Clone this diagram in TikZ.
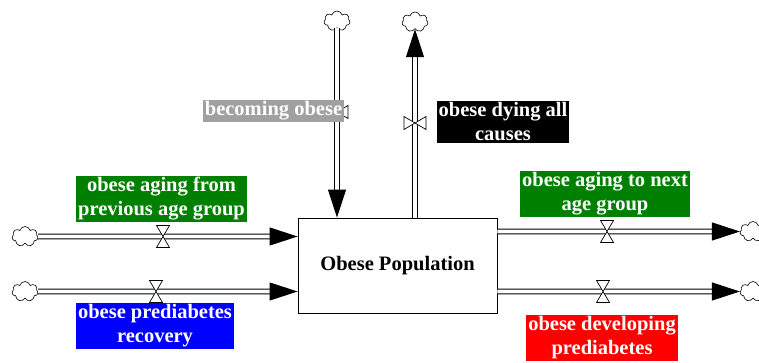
\documentclass[tikz,border=0pt]{standalone}
\usepackage{fontspec}
\setmainfont{Liberation Serif}
\usepackage{xcolor}
\usepackage{tikz}
\usetikzlibrary{positioning,shapes.symbols,arrows.meta}

\definecolor{flowgreen}{RGB}{0,128,0}
\definecolor{flowblue}{RGB}{0,0,255}
\definecolor{flowred}{RGB}{255,0,0}
\definecolor{flowgray}{RGB}{160,160,160}

\tikzset{
  pipe/.style={double=white,double distance=3.6pt,line width=1pt,
    -{Triangle[length=28pt,width=18pt]}},
  sky/.style={cloud,draw,cloud puffs=7,aspect=1.3,minimum width=26pt,
    minimum height=20pt,inner sep=0pt,line width=.6pt},
  valve/.pic={\draw[line width=.7pt,fill=white]
    (-6.5,-11) -- (6.5,-11) -- (-6.5,11) -- (6.5,11) -- cycle;},
  flowlabel/.style={text=white,font=\bfseries\fontsize{20.5}{24}\selectfont,
    align=center,inner xsep=2pt,inner ysep=1.5pt}
}

\begin{document}
\begin{tikzpicture}[x=1pt,y=-1pt]
\useasboundingbox (0,0) rectangle (759,363);
  \node[draw,line width=.9pt,minimum width=199pt,minimum height=95pt,
    font=\bfseries\fontsize{20.5}{24}\selectfont] (stock) at (397.5,265.5)
    {Obese Population};
  % clouds
  \node[sky] (cA) at (25,236.5) {};
  \node[sky] (cB) at (25,291.5) {};
  \node[sky] (cC) at (337,21) {};
  \node[sky] (cD) at (415,22) {};
  \node[sky] (cE) at (753,231.5) {};
  \node[sky] (cF) at (753,291.5) {};
  % pipes
  \draw[pipe] (cA.east) -- (cA -| stock.west);
  \draw[pipe] (cB.east) -- (cB -| stock.west);
  \draw[pipe] (cC.south) -- (cC |- stock.north);
  \draw[pipe] (cD |- stock.north) -- (cD.south);
  \draw[pipe] (cE -| stock.east) -- (cE.west);
  \draw[pipe] (cF -| stock.east) -- (cF.west);
  % valves
  \pic at (163,236.5) {valve};
  \pic at (156,291.5) {valve};
  \pic[rotate=90] at (337,112) {valve};
  \pic[rotate=90] at (415,123) {valve};
  \pic at (607,231.5) {valve};
  \pic at (603,291.5) {valve};
  % labels
  \node[flowlabel,fill=flowgreen] (lblFrom) at (161.5,199)
    {obese aging from\\previous age group};
  \node[flowlabel,fill=flowblue] (lblRecovery) at (155,326)
    {obese prediabetes\\recovery};
  \node[flowlabel,fill=flowgray] (lblBecoming) at (273.5,111)
    {becoming obese};
  \node[flowlabel,fill=black] (lblDying) at (503,122)
    {obese dying all\\causes};
  \node[flowlabel,fill=flowgreen] (lblNext) at (605,194)
    {obese aging to next\\age group};
  \node[flowlabel,fill=flowred] (lblDeveloping) at (602,338)
    {obese developing\\prediabetes};
\end{tikzpicture}
\end{document}
